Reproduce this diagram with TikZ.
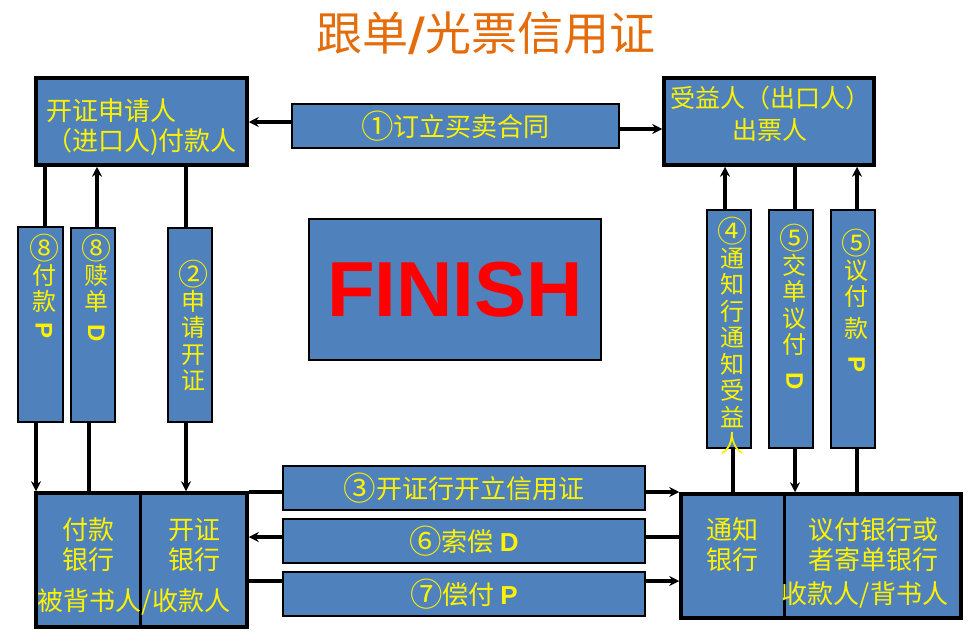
\documentclass[tikz,border=0pt]{standalone}
\usepackage{fontspec}
\setmainfont{Noto Sans CJK SC}
\newfontfamily\latinbf{Liberation Sans}
\newfontfamily\slashfont{DejaVu Sans}
\usepackage{graphicx}
\usetikzlibrary{arrows.meta,calc}
\definecolor{boxblue}{HTML}{4F81BD}
\definecolor{titleorange}{HTML}{E46C0A}
\newcommand{\lsym}[1]{{\latinbf\bfseries #1}}
\newcommand{\vsym}[1]{\raisebox{0.6em}{\rotatebox{-90}{\lsym{#1}}}}
\newcommand{\cnum}[1]{\raisebox{-0.08em}{\scalebox{1.25}{#1}}}

\begin{document}
\begin{tikzpicture}[x=1pt,y=-1pt,
    party/.style={draw,line width=3.5pt,fill=boxblue,inner sep=0pt},
    flow/.style={draw,line width=1.3pt,fill=boxblue,inner sep=0pt,text=yellow,
      font=\fontsize{26}{30}\selectfont},
    ytext/.style={text=yellow,inner sep=0pt,align=center,
      font=\fontsize{26}{30}\selectfont},
    vtext/.style={text=yellow,inner sep=0pt,align=center,anchor=north,
      font=\fontsize{24}{26.5}\selectfont},
    link/.style={line width=3.5pt},
    tip/.style={link,-{Stealth[length=10pt,width=10pt]}}]
  \useasboundingbox (0,0) rectangle (976,643);
  % title
  \node[text=titleorange,inner sep=0pt,font=\fontsize{46}{46}\selectfont] (title)
    at (486,33) {跟单{\slashfont\bfseries /}光票信用证};

  % parties
  \node[party,minimum width=211pt,minimum height=87pt] (appl) at (141.5,121.5) {};
  \node[party,minimum width=210pt,minimum height=87pt] (bene) at (769,121.5) {};
  \node[party,minimum width=211pt,minimum height=134pt] (issbank) at (141.5,560) {};
  \node[party,minimum width=280pt,minimum height=124pt] (advbank) at (821,556) {};
  \draw[link] ([xshift=106pt]issbank.north west) -- ([xshift=106pt,yshift=4pt]issbank.south west);
  \draw[link] ([xshift=105pt]advbank.north west) -- ([xshift=105pt]advbank.south west);

  \node[ytext,align=left,anchor=west] (appl-t) at (46,127) {开证申请人\\（进口人)付款人};
  \node[ytext,font=\fontsize{25}{32}\selectfont] (bene-t) at (770,114) {受益人（出口人）\\出票人};
  \node[ytext] (pay-t) at (88,544.5) {付款\\银行};
  \node[ytext] (iss-t) at (194,544.5) {开证\\银行};
  \node[ytext] (endo-t) at (134,602) {被背书人/收款人};
  \node[ytext] (adv-t) at (732,544.5) {通知\\银行};
  \node[ytext] (neg-t) at (873,544.5) {议付银行或\\者寄单银行};
  \node[ytext] (rec-t) at (865,595) {收款人/背书人};

  % steps
  \node[flow,minimum width=327pt,minimum height=44pt] (contract) at (455.5,126) {\cnum{①}订立买卖合同};
  \node[flow,minimum width=292pt,minimum height=141pt,text=red,
    font=\fontsize{78}{78}\latinbf\bfseries] (finish) at (455,289.5) {FINISH};
  \node[flow,minimum width=362pt,minimum height=44pt] (b3) at (464,488) {\cnum{③}开证行开立信用证};
  \node[flow,minimum width=362pt,minimum height=44pt] (b6) at (464,541) {\cnum{⑥}索偿 \lsym{D}};
  \node[flow,minimum width=362pt,minimum height=44pt] (b7) at (464,594) {\cnum{⑦}偿付 \lsym{P}};

  \node[flow,minimum width=45pt,minimum height=195pt] (b8p) at (40.5,324.5) {};
  \node[flow,minimum width=44pt,minimum height=194pt] (b8d) at (93,325) {};
  \node[flow,minimum width=44pt,minimum height=194pt] (b2) at (190,325) {};
  \node[flow,minimum width=44pt,minimum height=238pt] (b4) at (729,329) {};
  \node[flow,minimum width=44pt,minimum height=238pt] (b5d) at (791,329) {};
  \node[flow,minimum width=44pt,minimum height=238pt] (b5p) at (853,329) {};

  \node[vtext] (b8p-t) at (44,234) {\cnum{⑧}\\付\\款\\\vsym{P}};
  \node[vtext] (b8d-t) at (96.5,234) {\cnum{⑧}\\赎\\单\\[2pt]\vsym{D}};
  \node[vtext] (b2-t) at (193.5,260) {\cnum{②}\\申\\请\\开\\证};
  \node[vtext] (b4-t) at (732.5,217) {\cnum{④}\\通\\知\\行\\通\\知\\受\\益\\人};
  \node[vtext] (b5d-t) at (794.5,224) {\cnum{⑤}\\交\\单\\议\\付\\[7pt]\vsym{D}};
  \node[vtext] (b5p-t) at (856.5,229) {\cnum{⑤}\\议\\付\\[5pt]款\\[7pt]\vsym{P}};

  % connectors
  \draw[tip] ([yshift=4pt]contract.west) -- ([yshift=4pt]contract.west -| appl.east);
  \draw[tip] ([yshift=-3pt]contract.east) -- ([yshift=-3pt]contract.east -| bene.west);

  \draw[link] ([xshift=4.5pt]b8p.north) -- ([xshift=4.5pt]b8p.north |- appl.south);
  \draw[tip] ([xshift=-4.5pt]b8p.south) -- ([xshift=-4.5pt]b8p.south |- issbank.north);
  \draw[tip] ([xshift=4pt]b8d.north) -- ([xshift=4pt]b8d.north |- appl.south);
  \draw[link] ([xshift=-4pt]b8d.south) -- ([xshift=-4pt]b8d.south |- issbank.north);
  \draw[link] ([xshift=-4pt]b2.north |- appl.south) -- ([xshift=-4pt]b2.north);
  \draw[tip] ([xshift=-4pt]b2.south) -- ([xshift=-4pt]b2.south |- issbank.north);

  \draw[tip] ([xshift=-4pt]b4.north) -- ([xshift=-4pt]b4.north |- bene.south);
  \draw[link] ([xshift=4pt]b4.south) -- ([xshift=4pt]b4.south |- advbank.north);
  \draw[link] ([xshift=4pt]b5d.north |- bene.south) -- ([xshift=4pt]b5d.north);
  \draw[tip] ([xshift=4pt]b5d.south) -- ([xshift=4pt]b5d.south |- advbank.north);
  \draw[tip] ([xshift=4pt]b5p.north) -- ([xshift=4pt]b5p.north |- bene.south);
  \draw[link] ([xshift=4pt]b5p.south) -- ([xshift=4pt]b5p.south |- advbank.north);

  \draw[link] ([yshift=-4pt]b3.west) -- ([yshift=-4pt]b3.west -| issbank.east);
  \draw[tip] ([yshift=-4pt]b3.east) -- ([yshift=-4pt]b3.east -| advbank.west);
  \draw[tip] ([yshift=4pt]b6.west) -- ([yshift=4pt]b6.west -| issbank.east);
  \draw[link] ([yshift=4pt]b6.east) -- ([yshift=4pt]b6.east -| advbank.west);
  \draw[link] ([yshift=13pt]b7.west) -- ([yshift=13pt]b7.west -| issbank.east);
  \draw[tip] ([yshift=13pt]b7.east) -- ([yshift=13pt]b7.east -| advbank.west);
\end{tikzpicture}
\end{document}
